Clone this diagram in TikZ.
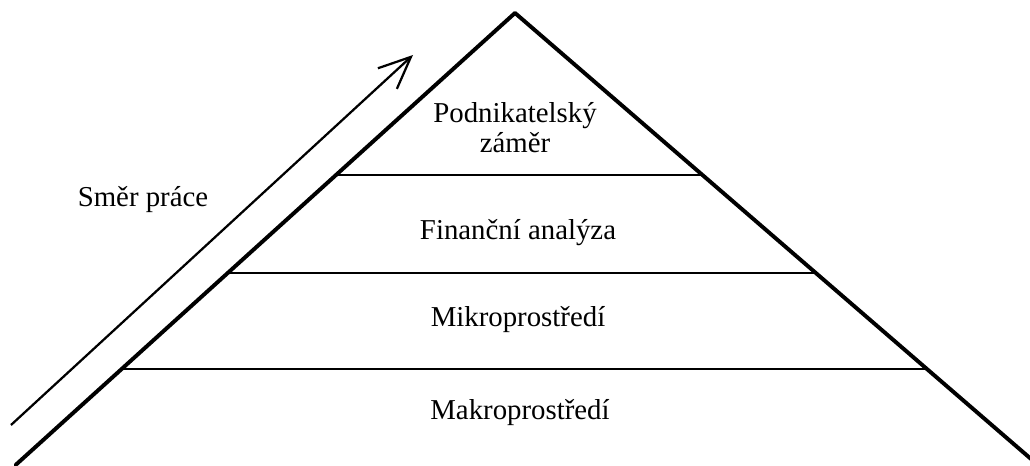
\documentclass[tikz,border=0pt]{standalone}
\usepackage{fontspec}
\setmainfont{Liberation Serif}
\usetikzlibrary{arrows.meta,calc}
\usepackage{tkz-euclide}

\begin{document}
\begin{tikzpicture}[every node/.style={font=\fontsize{20.5}{21.5}\selectfont}]
\useasboundingbox (0,0) rectangle (25.75,11.625);
\tkzSetUpLine[line width=2.8pt,color=black]

\tkzDefPoints{0.39/0/B,12.875/11.3/A,25.95/0/C,0.275/1.0/S,10.325/10.25/E}

% levels of the pyramid
\foreach \t/\n in {0.2124/1,0.4248/2,0.6416/3}{
  \coordinate (L\n) at ($(B)!\t!(A)$);
  \coordinate (R\n) at ($(C)!\t!(A)$);
}
\tkzDrawSegments[line width=2pt](L1,R1 L2,R2 L3,R3)
\tkzDrawSegments[line join=miter](B,A A,C)

\draw[line width=1.6pt,-{Straight Barb[length=0.8cm,width=0.7cm]}] (S) -- (E);

\node (zamer) at (12.875,8.425) [align=center] {Podnikatelský\\záměr};
\node (fin) at (12.95,5.8) {Finanční analýza};
\node (mikro) at (12.95,3.625) {Mikroprostředí};
\node (makro) at (13.0,1.3) {Makroprostředí};
\node (smer) at (3.575,6.625) {Směr práce};

\end{tikzpicture}
\end{document}
